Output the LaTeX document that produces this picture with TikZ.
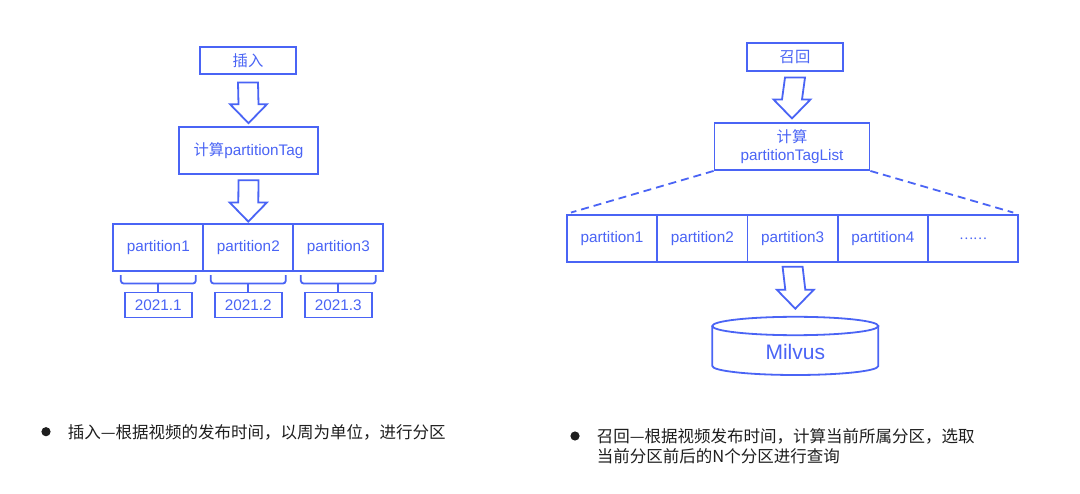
\documentclass[tikz,border=0pt]{standalone}
\usepackage{fontspec}
\setmainfont{Liberation Sans}
\newfontfamily\cjk{Noto Sans CJK SC}
\usetikzlibrary{calc}
\definecolor{mblue}{RGB}{74,100,245}
\definecolor{mtext}{RGB}{30,30,30}
\tikzset{
  box/.style={draw=mblue, line width=1.8pt, inner sep=0pt, text=mblue, font=\fontsize{15.3}{18.7}\selectfont, align=center},
  blk/.style={draw=mblue, line width=1.8pt, line join=miter},
  brace/.style={draw=mblue, line width=1.8pt, rounded corners=3pt},
  dashline/.style={draw=mblue, line width=1.8pt, dash pattern=on 8pt off 5pt},
  note/.style={text=mtext, font=\cjk\fontsize{16.5}{20.7}\selectfont, align=left, inner sep=0pt}
}
\newcommand\blockarrow[4]{%
  \draw[blk] ($(#1.south)+(-10,#3)$) -- ($(#1.south)+(10,#3)$)
    -- ($(#2.north)+(10,-#4-19)$) -- ($(#2.north)+(18.5,-#4-19)$)
    -- ($(#2.north)+(0,-#4)$) -- ($(#2.north)+(-18.5,-#4-19)$)
    -- ($(#2.north)+(-10,-#4-19)$) -- cycle;}
\begin{document}
\begin{tikzpicture}[x=1pt,y=-1pt]
\useasboundingbox[fill=white] (0,0) rectangle (1080,494);
% ---------- left diagram ----------
\node[box, minimum width=96pt, minimum height=27pt] (ins) at (248,60.7) {\cjk 插入};
\node[box, minimum width=139pt, minimum height=47pt] (calcL) at (248.5,150.3) {{\cjk 计算}partitionTag};
\node[box, minimum width=90pt, minimum height=46.4pt] (pl1) at (158.3,247.5) {partition1};
\node[box, minimum width=90pt, minimum height=46.4pt] (pl2) at (248.3,247.5) {partition2};
\node[box, minimum width=90pt, minimum height=46.4pt] (pl3) at (338.3,247.5) {partition3};
\node[box, minimum width=67pt, minimum height=25pt] (y1) at (158.3,305) {2021.1};
\node[box, minimum width=67pt, minimum height=25pt] (y2) at (248.3,305) {2021.2};
\node[box, minimum width=67pt, minimum height=25pt] (y3) at (338.3,305) {2021.3};
\blockarrow{ins}{calcL}{7.5}{2.7}
\blockarrow{calcL}{pl2}{5.5}{1.8}
\foreach \p/\y in {pl1/y1,pl2/y2,pl3/y3}{
  \draw[brace] ($(\p.south)+(-37.5,3.5)$) -- ($(\p.south)+(-37.5,12)$) -- ($(\p.south)+(37.5,12)$) -- ($(\p.south)+(37.5,3.5)$);
  \draw[brace] ($(\p.south)+(0,12)$) -- (\y.north);
}
% ---------- right diagram ----------
\node[box, minimum width=95.4pt, minimum height=27.4pt] (rec) at (795,57) {\cjk 召回};
\node[box, minimum width=155pt, minimum height=46.7pt] (calcR) at (792,146.7) {{\cjk 计算}\\partitionTagList};
\node[box, minimum width=90.3pt, minimum height=46.7pt] (pr1) at (612,238.3) {partition1};
\node[box, minimum width=90.3pt, minimum height=46.7pt] (pr2) at (702.3,238.3) {partition2};
\node[box, minimum width=90.3pt, minimum height=46.7pt] (pr3) at (792.6,238.3) {partition3};
\node[box, minimum width=90.3pt, minimum height=46.7pt] (pr4) at (882.9,238.3) {partition4};
\node[box, minimum width=90.3pt, minimum height=46.7pt] (pr5) at (973.2,238.3) {\cjk\fontsize{13}{15}\selectfont ……};
\draw[dashline] (calcR.south west) -- ($(pr1.north west)+(5,-1.5)$);
\draw[dashline] (calcR.south east) -- ($(pr5.north east)+(-6,-1.5)$);
% cylinder
\coordinate (cyl) at (795.3,316.7);
\draw[blk] (795.3,326) ellipse [x radius=83, y radius=9.2];
\draw[blk] (712.3,326) -- (712.3,366) arc [start angle=180, end angle=0, x radius=83, y radius=9] -- (878.3,326);
\node[text=mblue, font=\fontsize{21}{24}\selectfont, inner sep=0pt] (milvus) at (795.3,351.5) {Milvus};
\blockarrow{rec}{calcR}{6}{4}
\blockarrow{pr3}{cyl}{4.3}{8}
% ---------- notes ----------
\fill[mtext] (46,431.7) circle (4.6);
\node[note, anchor=west] (n1) at (67.7,432) {插入—根据视频的发布时间，以周为单位，进行分区};
\fill[mtext] (575,436) circle (4.6);
\node[note, anchor=west] (n2) at (596.7,446.3) {召回—根据视频发布时间，计算当前所属分区，选取\\当前分区前后的N个分区进行查询};
\end{tikzpicture}
\end{document}
